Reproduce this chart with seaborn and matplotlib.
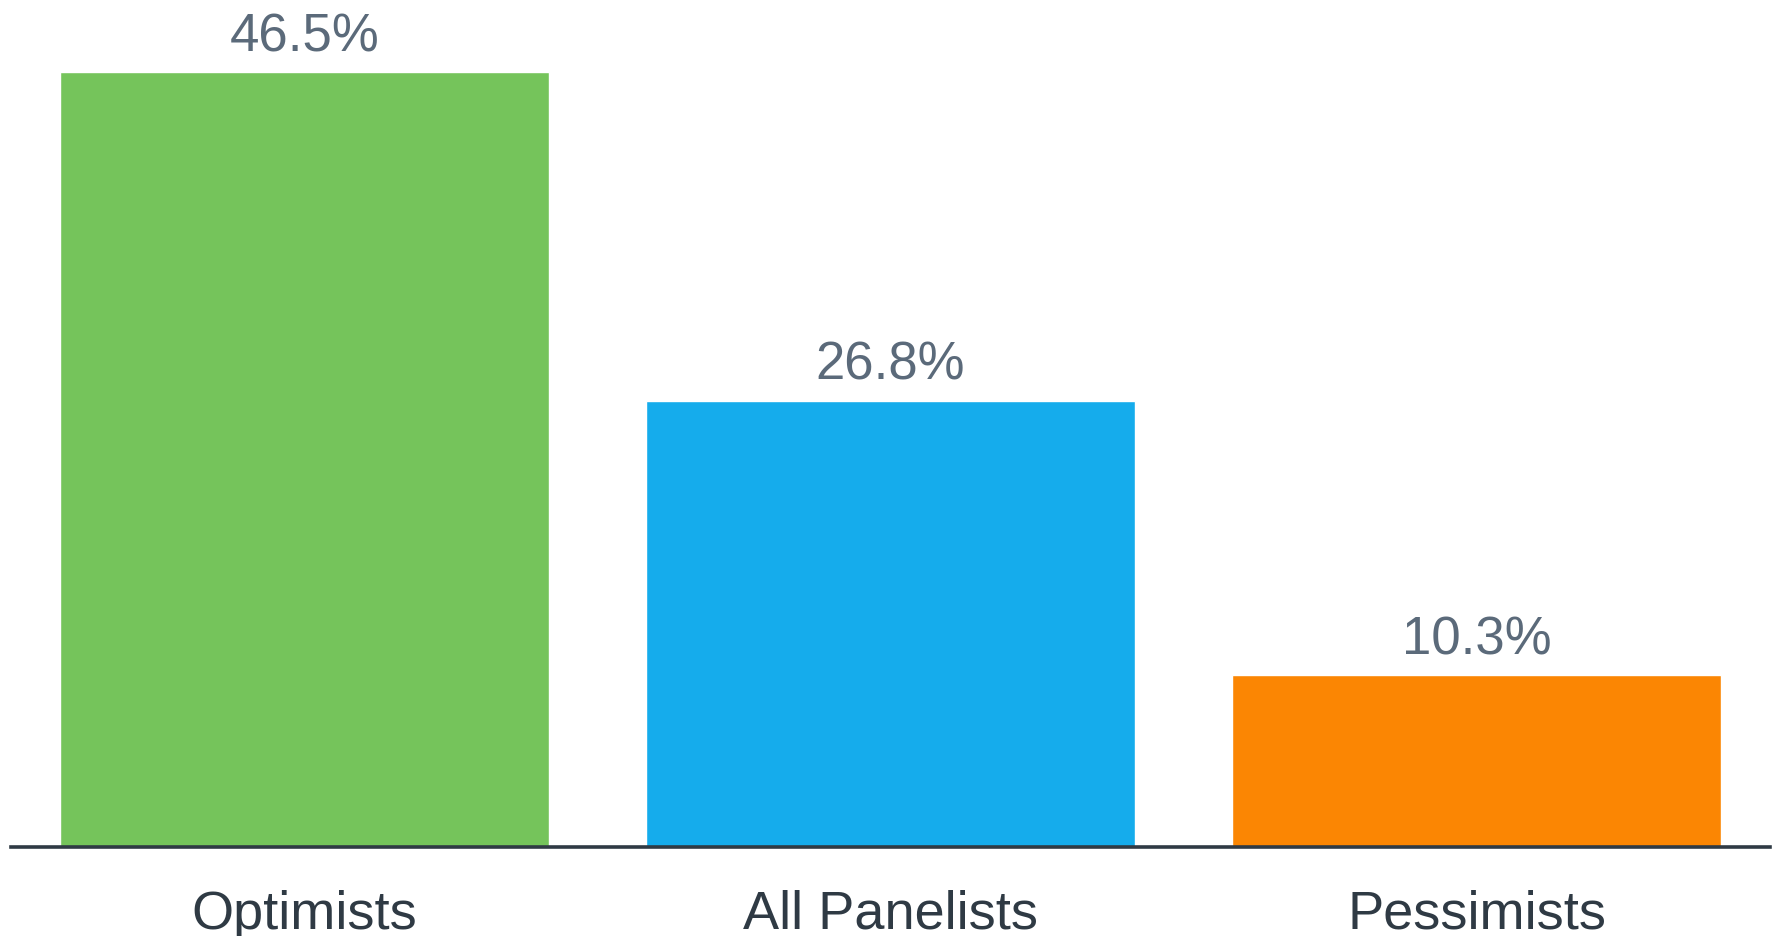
import matplotlib
matplotlib.use("Agg")
import matplotlib.pyplot as plt
import seaborn as sns
import pandas as pd

categories = ["Optimists", "All Panelists", "Pessimists"]
values = [46.5, 26.8, 10.3]
bar_colors = ["#75c45b", "#15acec", "#fb8603"]

sns.set_theme(style="white")
plt.rcParams["font.family"] = ["Liberation Sans", "DejaVu Sans"]

df = pd.DataFrame({"group": categories, "share": values})

fig = plt.figure(figsize=(17.79, 9.37), dpi=100)
ax = fig.add_axes([11 / 1779, 89 / 937, 1759 / 1779, 833 / 937])

sns.barplot(data=df, x="group", y="share", hue="group", palette=bar_colors,
            width=0.834, saturation=1, legend=False, ax=ax, order=categories)

for patch, v in zip(ax.patches, values):
    ax.annotate(f"{v:.1f}%", (patch.get_x() + patch.get_width() / 2, v),
                xytext=(0, 16), textcoords="offset points",
                ha="center", va="baseline", fontsize=38, color="#5b6a7a")

ax.set_xlim(-0.5, 2.5)
ax.set_ylim(0, 50)
ax.set_xlabel("")
ax.set_ylabel("")
ax.set_yticks([])
ax.tick_params(axis="x", length=0, pad=30, labelsize=39, labelcolor="#2f3a44")
for side in ["top", "left", "right"]:
    ax.spines[side].set_visible(False)
ax.spines["bottom"].set_color("#2f3a44")
ax.spines["bottom"].set_linewidth(2.6)
ax.set_facecolor("white")
fig.patch.set_facecolor("white")

fig.savefig("out.png", dpi=100)
